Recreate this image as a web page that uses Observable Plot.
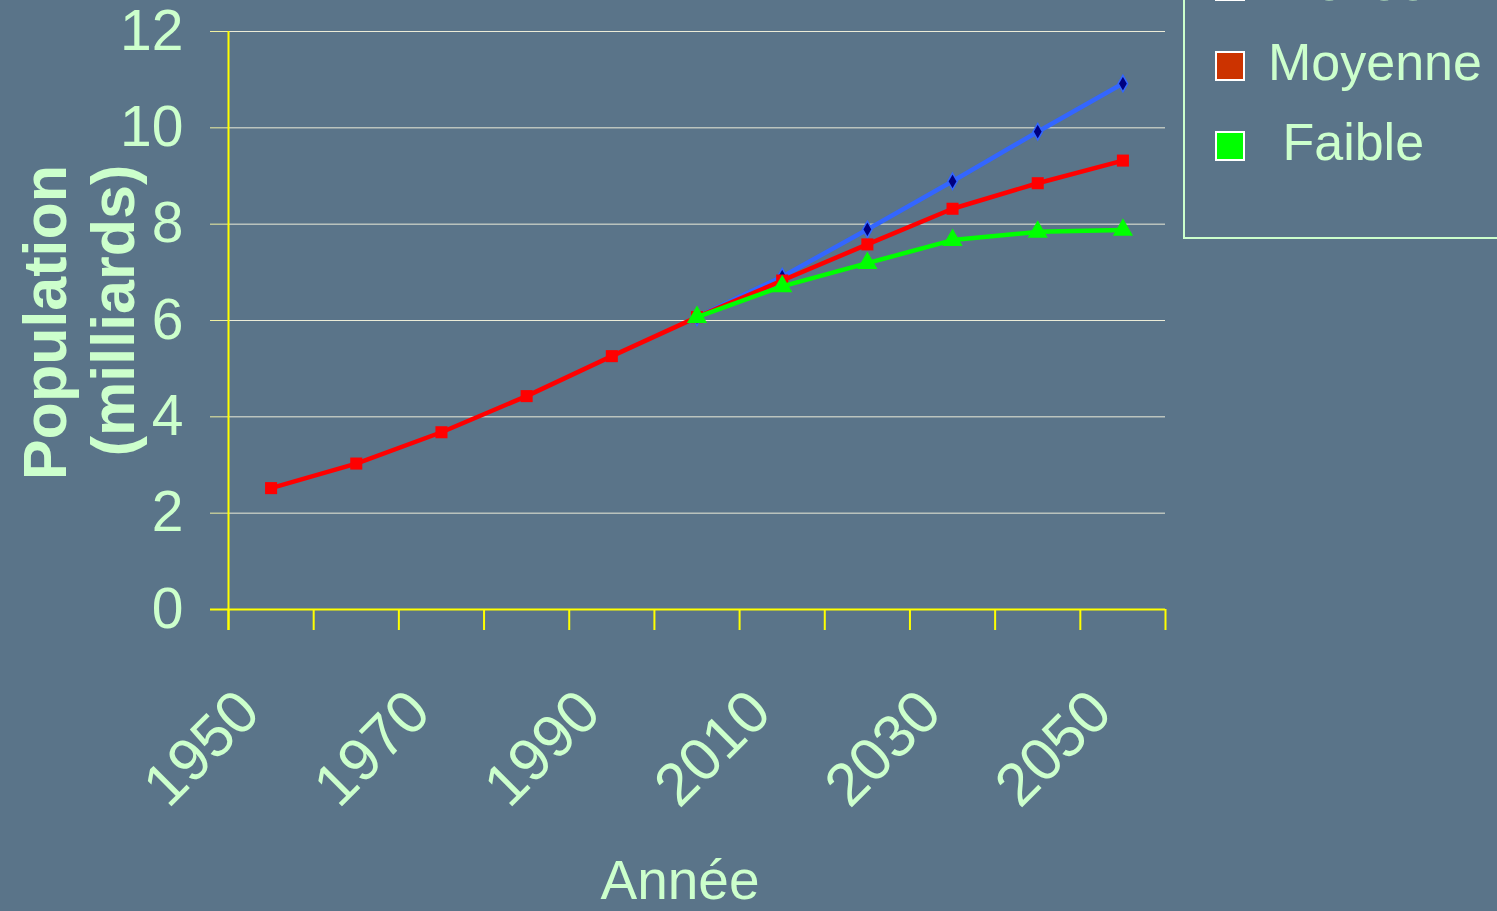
<!DOCTYPE html>
<html><head><meta charset="utf-8">
<script src="https://cdn.jsdelivr.net/npm/d3@7"></script>
<script src="https://cdn.jsdelivr.net/npm/@observablehq/plot@0.6"></script>
<style>
html,body{margin:0;padding:0;background:#5a7489;overflow:hidden;width:1497px;height:911px;font-family:"Liberation Sans",Arial,sans-serif;}
#chart{position:absolute;left:0;top:0;}
#legendBox{position:absolute;left:1183px;top:-60px;width:400px;height:299px;border:2px solid #ccffcc;box-sizing:border-box;}
.leg{position:absolute;color:#ccffcc;font-size:52px;line-height:52px;white-space:pre;}
.sw{position:absolute;width:26px;height:26px;border:2px solid #ffffff;}
</style></head><body>
<div id="chart"></div>
<div id="legendBox"></div>
<div id="legend"></div>
<script>
// ---- data ----
const years = [1950, 1960, 1970, 1980, 1990, 2000, 2010, 2020, 2030, 2040, 2050];
const moyenne = [2.52, 3.03, 3.68, 4.43, 5.26, 6.07, 6.83, 7.58, 8.32, 8.85, 9.32];
const projYears = [2000, 2010, 2020, 2030, 2040, 2050];
const haute = [6.07, 6.91, 7.89, 8.89, 9.92, 10.92];
const faible = [6.07, 6.71, 7.19, 7.67, 7.84, 7.88];
const yTicks = [0, 2, 4, 6, 8, 10, 12];
const xTickLabels = [1950, 1970, 1990, 2010, 2030, 2050];
const seriesNames = ["Élevée", "Moyenne", " Faible"];
const legendColors = ["#0000ff", "#cc3300", "#00ff00"];
const yLabelLines = ["Population", "(milliards)"];
const xLabel = "Année";

// ---- derived tables ----
const medData = years.map((year, i) => ({year, value: moyenne[i]}));
const highData = projYears.map((year, i) => ({year, value: haute[i]}));
const lowData = projYears.map((year, i) => ({year, value: faible[i]}));
const step = years[1] - years[0];
const edges = years.map(y => y - step / 2).concat([years[years.length - 1] + step / 2]);

const txt = "#ccffcc";
const yellow = "#ffff00";

const chart = Plot.plot({
  width: 1497, height: 911,
  marginLeft: 228, marginRight: 332, marginTop: 31, marginBottom: 302,
  style: {background: "transparent", color: txt, fontFamily: "'Liberation Sans', Arial, sans-serif", overflow: "visible"},
  x: {domain: [edges[0], edges[edges.length - 1]], axis: null},
  y: {domain: [0, 12], axis: null},
  marks: [
    Plot.ruleY(yTicks.slice(1), {stroke: "#ececd8", strokeWidth: 1}),
    Plot.axisY({ticks: yTicks, tickSize: 18, tickPadding: 27, stroke: "#f0f0a0", strokeWidth: 1, fill: txt, fontSize: 57, tickFormat: "d", label: null}),
    Plot.axisX({ticks: edges, tickSize: 21, stroke: yellow, strokeWidth: 2, tickFormat: () => "", label: null}),
    Plot.ruleY([0], {stroke: yellow, strokeWidth: 2, insetLeft: -18}),
    Plot.ruleX([edges[0]], {stroke: yellow, strokeWidth: 2, insetBottom: -21}),
    Plot.axisX({ticks: xTickLabels, tickSize: 0, tickPadding: 92, tickRotate: -45, fill: txt, fontSize: 60, tickFormat: "d", label: null, dx: -22}),
    Plot.line(highData, {x: "year", y: "value", stroke: "#3366ff", strokeWidth: 4.5}),
    Plot.dot(highData, {x: "year", y: "value", symbol: "diamond", r: 5, fill: "#000080", stroke: "#3366ff", strokeWidth: 1.5}),
    Plot.line(medData, {x: "year", y: "value", stroke: "#ff0000", strokeWidth: 4.5}),
    Plot.dot(medData, {x: "year", y: "value", symbol: "square", r: 6.8, fill: "#ff0000", stroke: "none"}),
    Plot.line(lowData, {x: "year", y: "value", stroke: "#00ff00", strokeWidth: 4.5}),
    Plot.dot(lowData, {x: "year", y: "value", symbol: "triangle", r: 7.5, fill: "#00ff00", stroke: "none"}),
    Plot.text([yLabelLines[0]], {text: d => d, frameAnchor: "left", rotate: -90, dx: -163, dy: 2, lineAnchor: "bottom", textAnchor: "middle", fontSize: 61, fontWeight: "bold", fill: txt}),
    Plot.text([yLabelLines[1]], {text: d => d, frameAnchor: "left", rotate: -90, dx: -95, dy: -10, lineAnchor: "bottom", textAnchor: "middle", fontSize: 61, fontWeight: "bold", fill: txt}),
    Plot.text([xLabel], {text: d => d, frameAnchor: "bottom", dx: -17, dy: 289, lineAnchor: "bottom", textAnchor: "middle", fontSize: 55, fill: txt})
  ]
});
document.getElementById("chart").appendChild(chart);

// ---- legend (HTML, partly cut off at top as in reference) ----
const leg = document.getElementById("legend");
const centers = [-14, 66, 146];
seriesNames.forEach((name, i) => {
  const sw = document.createElement("div");
  sw.className = "sw";
  sw.style.left = "1215px";
  sw.style.top = (centers[i] - 15) + "px";
  sw.style.background = legendColors[i];
  leg.appendChild(sw);
  const t = document.createElement("div");
  t.className = "leg";
  t.textContent = name;
  t.style.left = "1268px";
  t.style.top = (centers[i] - 30) + "px";
  leg.appendChild(t);
});
</script>
</body></html>
